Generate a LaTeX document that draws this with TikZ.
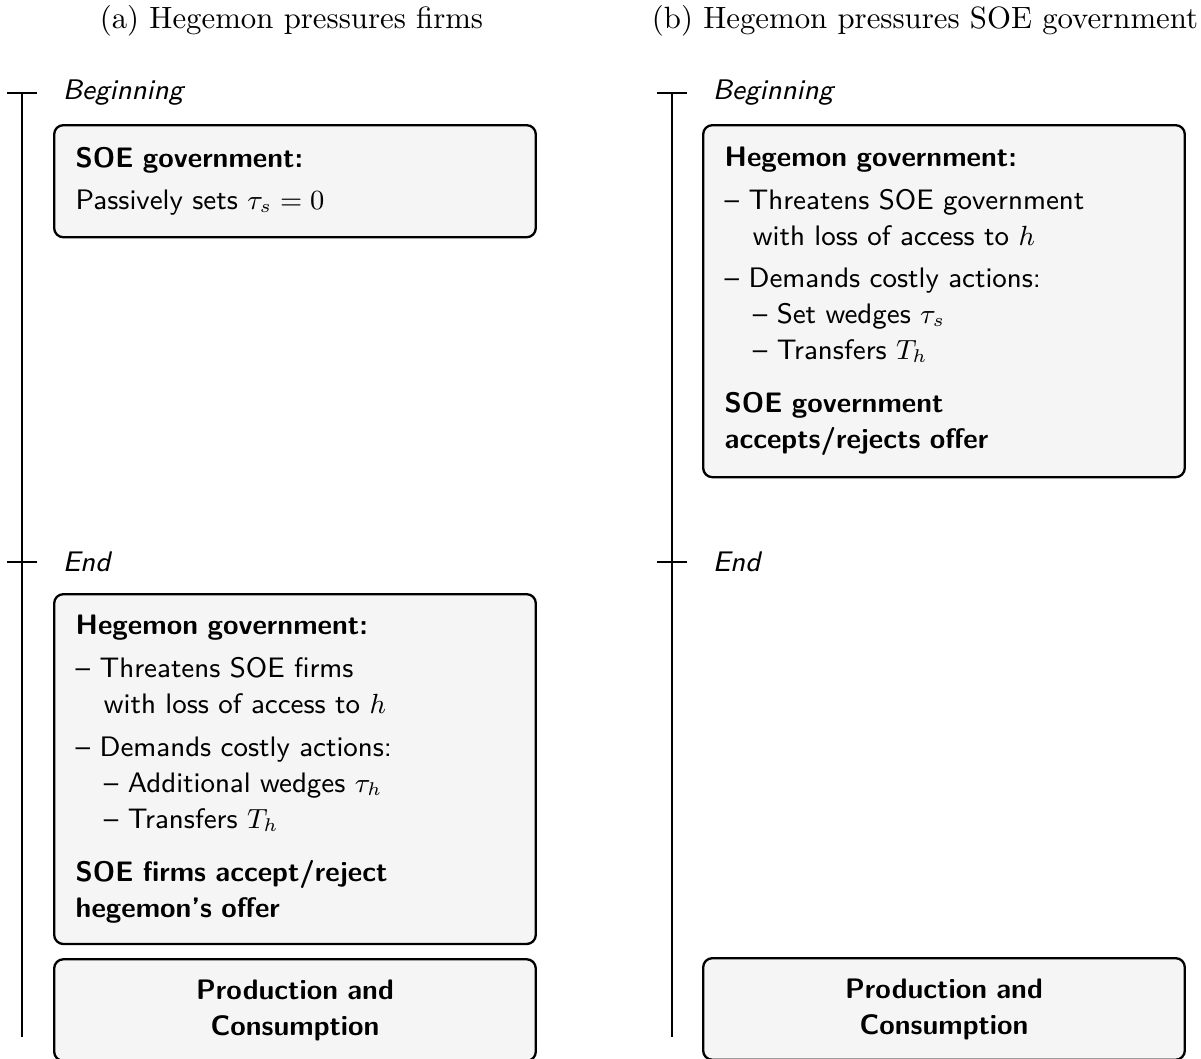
\documentclass[tikz,border=0pt]{standalone}
\usepackage{amsmath}
\usepackage{xcolor}
\usepackage{tikz}
\usetikzlibrary{positioning}

\begin{document}
\begin{tikzpicture}[x=0.3247pt, y=-0.3247pt, node distance=4.2pt,
    tl/.style={line width=0.65pt},
    lbl/.style={font=\sffamily\itshape\fontsize{9.2}{11.7}\selectfont},
    subcap/.style={anchor=base, font=\rmfamily\fontsize{10}{12}\selectfont},
    box/.style={draw, line width=0.75pt, rounded corners=3pt, fill=black!4,
        minimum width=156.4pt, text width=142.4pt, inner xsep=7pt, align=left,
        font=\sffamily\fontsize{9.15}{11.7}\selectfont}]
    \useasboundingbox (0,0) rectangle (1201,1059);

    % Captions
    \node[subcap] (capA) at (291.5,28) {(a) Hegemon pressures firms};
    \node[subcap] (capB) at (925,28) {(b) Hegemon pressures SOE government};

    % Timelines
    \coordinate (aTop) at (22,93);
    \coordinate (aEnd) at (22,562);
    \coordinate (aBot) at (22,1037);
    \coordinate (bTop) at (672,93);
    \coordinate (bEnd) at (672,562);
    \coordinate (bBot) at (672,1037);
    \draw[tl] (aTop) -- (aBot);
    \draw[tl] (bTop) -- (bBot);
    \draw[tl] (aTop) ++(-15,0) -- ++(30,0);
    \draw[tl] (aEnd) ++(-15,0) -- ++(30,0);
    \draw[tl] (bTop) ++(-15,0) -- ++(30,0);
    \draw[tl] (bEnd) ++(-15,0) -- ++(30,0);
    \node[lbl, right=9.7pt of aTop] (aBeg) {Beginning};
    \node[lbl, right=9.7pt of aEnd] (aFin) {End};
    \node[lbl, right=9.7pt of bTop] (bBeg) {Beginning};
    \node[lbl, right=9.7pt of bEnd] (bFin) {End};

    % Panel (a)
    \node[box, anchor=north west, minimum height=36.4pt] (aSoe) at (53,124)
        {\textbf{SOE government:}\\[2.2pt]
         Passively sets $\tau_s = 0$};
    \node[box, anchor=north west, minimum height=113.6pt] (aHeg) at (53,593)
        {\textbf{Hegemon government:}\\[2.2pt]
         -- Threatens SOE firms\\
         \hspace*{1em}with loss of access to $h$\\[2.1pt]
         -- Demands costly actions:\\
         \hspace*{1em}-- Additional wedges $\tau_h$\\
         \hspace*{1em}-- Transfers $T_h$\\[5.5pt]
         \textbf{SOE firms accept/reject}\\
         \textbf{hegemon's offer}};
    \node[box, below=of aHeg, align=center, minimum height=33pt] (aProd)
        {\textbf{Production and}\\ \textbf{Consumption}};

    % Panel (b)
    \node[box, anchor=north west, minimum height=114.3pt] (bHeg) at (702,124)
        {\textbf{Hegemon government:}\\[2.2pt]
         -- Threatens SOE government\\
         \hspace*{1em}with loss of access to $h$\\[2.1pt]
         -- Demands costly actions:\\
         \hspace*{1em}-- Set wedges $\tau_s$\\
         \hspace*{1em}-- Transfers $T_h$\\[5.5pt]
         \textbf{SOE government}\\
         \textbf{accepts/rejects offer}};
    \node[box, anchor=north west, align=center, minimum height=33pt] (bProd) at (702,957)
        {\textbf{Production and}\\ \textbf{Consumption}};
\end{tikzpicture}
\end{document}
